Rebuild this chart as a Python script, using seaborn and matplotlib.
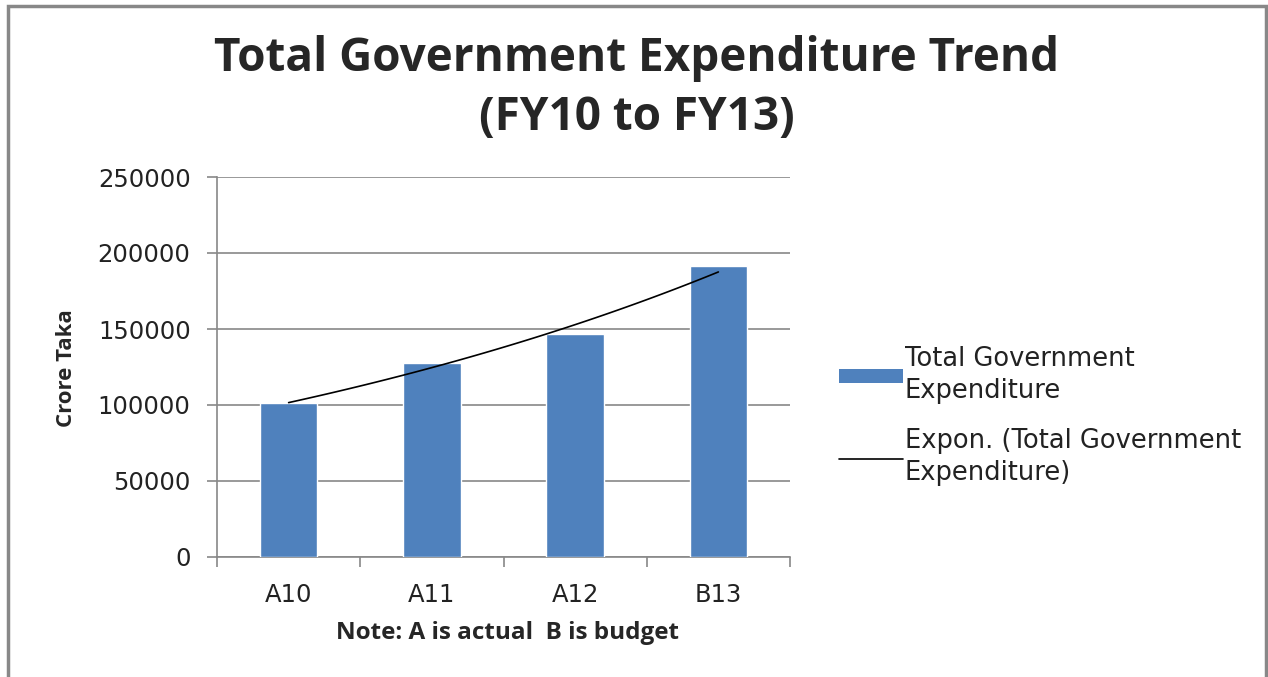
import numpy as np
import pandas as pd
import matplotlib
matplotlib.use("Agg")
import matplotlib.pyplot as plt
import seaborn as sns
from matplotlib.lines import Line2D
from matplotlib.patches import Patch, Rectangle

# Chart data (crore Taka)
years = ["A10", "A11", "A12", "B13"]
expenditure = [101300, 127800, 146500, 191300]
y_ticks = [0, 50000, 100000, 150000, 200000, 250000]

df = pd.DataFrame({"Year": years, "Expenditure": expenditure})

sns.set_theme(style="white")
plt.rcParams["font.family"] = ["DejaVu Sans"]

bar_color = "#4F81BD"
grid_color = "#888888"

fig = plt.figure(figsize=(12.68, 6.77), dpi=100)
ax = fig.add_axes([217 / 1268, 1 - 557 / 677, 573 / 1268, 380 / 677])

sns.barplot(data=df, x="Year", y="Expenditure", color=bar_color, width=0.4,
            saturation=1, ax=ax, zorder=3)

# Exponential trendline (Excel style: least squares fit on ln(y))
xs = np.arange(len(years))
b, a = np.polyfit(xs, np.log(expenditure), 1)
xf = np.linspace(0, len(years) - 1, 100)
ax.plot(xf, np.exp(a + b * xf), color="black", lw=1.2, zorder=4)

ax.set_xlim(-0.5, len(years) - 0.5)
ax.set_ylim(0, 250000)
ax.set_yticks(y_ticks)
ax.set_yticklabels([str(v) for v in y_ticks])
ax.set_axisbelow(True)
ax.yaxis.grid(True, color=grid_color, lw=1.2)
ax.set_xlabel("")
ax.set_ylabel("")

for s in ["top", "right"]:
    ax.spines[s].set_visible(False)
for s in ["left", "bottom"]:
    ax.spines[s].set_color(grid_color)
    ax.spines[s].set_linewidth(1.2)

ax.tick_params(axis="y", length=7, width=1.2, color=grid_color, pad=12,
               labelsize=17.5, labelcolor="#222222", left=True)
ax.set_xticks(np.arange(-0.5, len(years), 1.0), minor=True)
ax.tick_params(axis="x", which="minor", length=7, width=1.2, color=grid_color,
               bottom=True)
ax.tick_params(axis="x", which="major", length=0, pad=19, labelsize=17.5,
               labelcolor="#222222")

# Title and axis labels
fig.text(0.502, 1 - 58 / 677, "Total Government Expenditure Trend", ha="center",
         va="center", fontsize=33, fontweight="bold", family="Open Sans")
fig.text(0.502, 1 - 118 / 677, "(FY10 to FY13)", ha="center", va="center",
         fontsize=33, fontweight="bold", family="Open Sans")
fig.text(67 / 1268, 1 - 368 / 677, "Crore Taka", rotation=90, ha="center",
         va="center", fontsize=16, fontweight="bold", family="Open Sans")
fig.text(507 / 1268, 1 - 633 / 677, "Note: A is actual  B is budget",
         ha="center", va="center", fontsize=17.5, fontweight="bold", family="Open Sans")

# Legend
handles = [Patch(facecolor=bar_color, edgecolor="none"),
           Line2D([0], [0], color="black", lw=1.2)]
labels = ["Total Government\nExpenditure", "Expon. (Total Government\nExpenditure)"]
leg = fig.legend(handles, labels, loc="upper left",
                 bbox_to_anchor=(839 / 1268, 1 - 346 / 677),
                 frameon=False, fontsize=18.5, handlelength=2.5, handleheight=0.5,
                 handletextpad=0.05, labelspacing=0.95, borderpad=0,
                 borderaxespad=0, labelcolor="#222222")
for t in leg.get_texts():
    t.set_linespacing(1.3)

# Outer chart border
fig.add_artist(Rectangle((8 / 1268, -0.05), 1258 / 1268, 1.05 - 6 / 677,
                         transform=fig.transFigure, fill=False,
                         edgecolor="#888888", lw=2.5))

fig.savefig("out.png", dpi=100)
